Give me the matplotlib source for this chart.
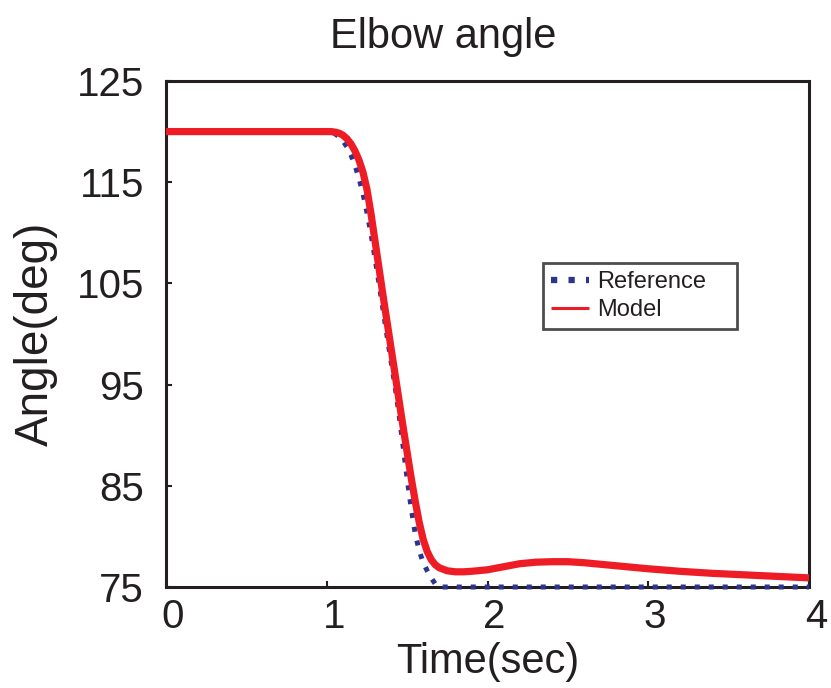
import matplotlib
matplotlib.use("Agg")
import matplotlib.pyplot as plt
from matplotlib.transforms import ScaledTranslation

plt.rcParams['font.family'] = ['Liberation Sans', 'DejaVu Sans']

# Reference elbow trajectory (deg) over time (sec)
ref_t = [0.0, 0.5, 1.0, 1.025, 1.05, 1.075, 1.10, 1.125, 1.15, 1.175, 1.20,
         1.225, 1.25, 1.275, 1.30, 1.325, 1.35, 1.375, 1.40, 1.425, 1.45,
         1.475, 1.50, 1.525, 1.55, 1.575, 1.60, 1.625, 1.65, 1.675, 1.70,
         1.80, 2.0, 2.5, 3.0, 3.5, 4.0]
ref_angle = [120.0, 120.0, 120.0, 119.95, 119.8, 119.5, 119.1, 118.5, 117.7,
             116.7, 115.4, 113.9, 112.0, 109.9, 107.5, 105.0, 102.4, 99.8,
             97.3, 94.8, 92.0, 88.9, 85.7, 82.8, 80.3, 78.6, 77.4, 76.6,
             75.9, 75.3, 75.0, 75.0, 75.0, 75.0, 75.0, 75.0, 75.0]

# Model response
model_t = [0.0, 0.5, 1.0, 1.025, 1.05, 1.075, 1.10, 1.125, 1.15, 1.175,
           1.20, 1.225, 1.25, 1.275, 1.30, 1.325, 1.35, 1.375, 1.40, 1.425,
           1.45, 1.475, 1.50, 1.525, 1.55, 1.575, 1.60, 1.625, 1.65, 1.675,
           1.70, 1.75, 1.80, 1.85, 1.90, 2.0, 2.1, 2.2, 2.3, 2.4, 2.5, 2.6,
           2.7, 2.8, 3.0, 3.2, 3.4, 3.6, 3.8, 4.0]
model_angle = [120.0, 120.0, 120.0, 120.0, 119.95, 119.85, 119.65, 119.3,
               118.8, 118.1, 117.2, 116.0, 114.3, 111.9, 109.2, 106.5,
               103.8, 101.2, 98.6, 96.0, 93.4, 90.8, 88.3, 85.8, 83.5, 81.4,
               79.7, 78.5, 77.7, 77.2, 76.9, 76.6, 76.5, 76.5, 76.55, 76.7,
               77.0, 77.3, 77.45, 77.5, 77.5, 77.4, 77.25, 77.1, 76.8, 76.55,
               76.35, 76.2, 76.05, 75.9]

x_ticks = [0, 1, 2, 3, 4]
y_ticks = [75, 85, 95, 105, 115, 125]

ink = '#231F20'

fig = plt.figure(figsize=(8.31, 6.88), dpi=100)
ax = fig.add_axes([0.1998, 0.1468, 0.7737, 0.7355])

ax.plot(ref_t, ref_angle, color='#2B3590', linewidth=3.6,
        linestyle=(0, (1, 1.8)), dash_capstyle='butt', label='Reference',
        clip_on=False, zorder=4)
ax.plot(model_t, model_angle, color='#EE1C25', linewidth=5.2,
        solid_capstyle='butt', solid_joinstyle='round', label='Model',
        clip_on=False, zorder=5)

ax.set_xlim(0, 4)
ax.set_ylim(75, 125)
ax.set_xticks(x_ticks)
ax.set_yticks(y_ticks)

for side in ['left', 'bottom', 'top', 'right']:
    ax.spines[side].set_linewidth(2.2)
    ax.spines[side].set_color(ink)

ax.tick_params(axis='both', direction='in', length=4, width=1.5,
               colors=ink, labelsize=29)
ax.tick_params(axis='y', pad=16)
ax.tick_params(axis='x', pad=8)

# nudge the time tick labels a little to the right
shift = ScaledTranslation(5 / 72, 0, fig.dpi_scale_trans)
for lbl in ax.get_xticklabels():
    lbl.set_transform(lbl.get_transform() + shift)

fig.text(0.533, 0.946, 'Elbow angle', fontsize=30, color=ink,
         ha='center', va='center')
ax.set_xlabel('Time(sec)', fontsize=30, color=ink, labelpad=4)
ax.set_ylabel('Angle(deg)', fontsize=33, color=ink, labelpad=13)

leg = ax.legend(loc='center', bbox_to_anchor=(0.586, 0.508, 0.302, 0.134),
                mode='expand', fontsize=17, frameon=True, fancybox=False,
                handlelength=1.6, handletextpad=0.35, borderpad=0.35,
                labelspacing=0.25, borderaxespad=0)
leg.get_frame().set_edgecolor(ink)
leg.get_frame().set_linewidth(2.0)
for t in leg.get_texts():
    t.set_color(ink)
handles = leg.get_lines()
handles[0].set_linewidth(4.5)
handles[1].set_linewidth(2.2)

fig.savefig('out.png', dpi=100)
